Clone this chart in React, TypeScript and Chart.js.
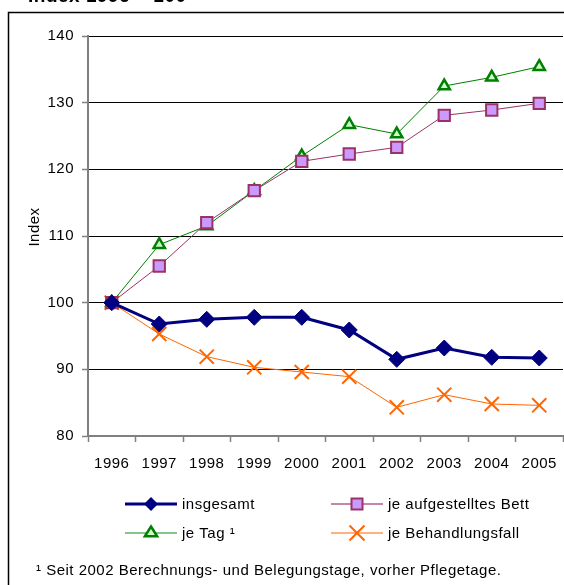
import React, { useEffect, useRef } from "react";
import { Chart, registerables } from "chart.js";

Chart.register(...registerables);

const years = ["1996", "1997", "1998", "1999", "2000", "2001", "2002", "2003", "2004", "2005"];
const insgesamt = [100, 96.8, 97.5, 97.8, 97.8, 95.9, 91.5, 93.2, 91.8, 91.7];
const jeBett = [100, 105.5, 112.0, 116.8, 121.2, 122.3, 123.3, 128.1, 128.9, 129.9];
const jeTag = [100, 108.7, 111.5, 116.8, 122.0, 126.7, 125.3, 132.5, 133.8, 135.4];
const jeFall = [100, 95.3, 91.9, 90.3, 89.6, 88.9, 84.3, 86.2, 84.8, 84.6];

const yMin = 80;
const yMax = 140;
const yStep = 10;

const seriesNames = ["insgesamt", "je aufgestelltes Bett", "je Tag \u00b9", "je Behandlungsfall"];
const footnote = "\u00b9 Seit 2002 Berechnungs- und Belegungstage, vorher Pflegetage.";
const topTitle = "Index 1996 = 100";
const yTitle = "Index";

const FONT = "'Liberation Sans', Arial, sans-serif";
const SPACING = "0.5px";

function drawMarker(ctx: CanvasRenderingContext2D, kind: string, x: number, y: number) {
  ctx.save();
  if (kind === "diamond") {
    const r = 7;
    ctx.beginPath();
    ctx.moveTo(x, y - r);
    ctx.lineTo(x + r, y);
    ctx.lineTo(x, y + r);
    ctx.lineTo(x - r, y);
    ctx.closePath();
    ctx.fillStyle = "#000080";
    ctx.fill();
  } else if (kind === "square") {
    const s = 5.5;
    ctx.fillStyle = "#CC99FF";
    ctx.strokeStyle = "#993366";
    ctx.lineWidth = 2;
    ctx.fillRect(x - s, y - s, 2 * s, 2 * s);
    ctx.strokeRect(x - s, y - s, 2 * s, 2 * s);
  } else if (kind === "triangle") {
    const r = 6.5;
    ctx.beginPath();
    ctx.moveTo(x, y - r);
    ctx.lineTo(x + r * 0.866 + 0.5, y + r * 0.5);
    ctx.lineTo(x - r * 0.866 - 0.5, y + r * 0.5);
    ctx.closePath();
    ctx.fillStyle = "#CCFFCC";
    ctx.fill();
    ctx.strokeStyle = "#008000";
    ctx.lineWidth = 2.5;
    ctx.stroke();
  } else if (kind === "cross") {
    const r = 7.5;
    ctx.beginPath();
    ctx.moveTo(x - r, y - r);
    ctx.lineTo(x + r, y + r);
    ctx.moveTo(x + r, y - r);
    ctx.lineTo(x - r, y + r);
    ctx.strokeStyle = "#FF6600";
    ctx.lineWidth = 2;
    ctx.stroke();
  }
  ctx.restore();
}

function setSpacing(chart: any) {
  const ctx = chart.ctx as any;
  if (ctx && "letterSpacing" in ctx) ctx.letterSpacing = SPACING;
}

const overlayPlugin = {
  id: "overlay",
  beforeLayout(chart: any) {
    setSpacing(chart);
  },
  beforeDraw(chart: any) {
    setSpacing(chart);
    const ctx = chart.ctx as CanvasRenderingContext2D;
    ctx.save();
    ctx.fillStyle = "#ffffff";
    ctx.fillRect(0, 0, chart.width, chart.height);
    ctx.strokeStyle = "#000000";
    ctx.lineWidth = 1.5;
    ctx.beginPath();
    ctx.moveTo(8.5, chart.height + 5);
    ctx.lineTo(8.5, 12.5);
    ctx.lineTo(chart.width + 5, 12.5);
    ctx.stroke();
    ctx.fillStyle = "#000000";
    ctx.font = "bold 19px " + FONT;
    ctx.textBaseline = "alphabetic";
    ctx.textAlign = "left";
    ctx.fillText(topTitle, 28, 2);
    ctx.restore();
  },
  afterDraw(chart: any) {
    const ctx = chart.ctx as CanvasRenderingContext2D;
    const items = [
      { kind: "diamond", color: "#000080", width: 3, x: 125, y: 504 },
      { kind: "square", color: "#B0608A", width: 1.5, x: 331, y: 504 },
      { kind: "triangle", color: "#60B060", width: 1.5, x: 125, y: 533 },
      { kind: "cross", color: "#FF9955", width: 1.5, x: 331, y: 533 },
    ];
    ctx.save();
    items.forEach((it, i) => {
      ctx.beginPath();
      ctx.moveTo(it.x, it.y);
      ctx.lineTo(it.x + 52, it.y);
      ctx.strokeStyle = it.color;
      ctx.lineWidth = it.width;
      ctx.stroke();
      drawMarker(ctx, it.kind, it.x + 26, it.y);
      ctx.fillStyle = "#000000";
      ctx.font = "15px " + FONT;
      ctx.textBaseline = "middle";
      ctx.textAlign = "left";
      ctx.fillText(seriesNames[i], it.x + 57, it.y + 1);
    });
    ctx.font = "15px " + FONT;
    ctx.textBaseline = "middle";
    ctx.fillText(footnote, 36, 571);
    // y-axis title
    ctx.translate(35, 227);
    ctx.rotate(-Math.PI / 2);
    ctx.textAlign = "center";
    ctx.textBaseline = "middle";
    ctx.fillText(yTitle, 0, 0);
    ctx.restore();
  },
};

export default function App() {
  const ref = useRef<HTMLCanvasElement | null>(null);
  useEffect(() => {
    if (!ref.current) return;
    const chart = new Chart(ref.current, {
      type: "line",
      data: {
        labels: years,
        datasets: [
          {
            label: seriesNames[0],
            data: insgesamt,
            borderColor: "#000080",
            backgroundColor: "#000080",
            borderWidth: 3,
            pointStyle: "rectRot",
            pointRadius: 8,
            pointBorderWidth: 1,
            pointBorderColor: "#000080",
            pointBackgroundColor: "#000080",
            tension: 0,
          },
          {
            label: seriesNames[1],
            data: jeBett,
            borderColor: "#993366",
            backgroundColor: "#CC99FF",
            borderWidth: 1,
            pointStyle: "rect",
            pointRadius: 8,
            pointBorderWidth: 2,
            pointBorderColor: "#993366",
            pointBackgroundColor: "#CC99FF",
            tension: 0,
          },
          {
            label: seriesNames[2],
            data: jeTag,
            borderColor: "#008000",
            backgroundColor: "#CCFFCC",
            borderWidth: 1,
            pointStyle: "triangle",
            pointRadius: 6.5,
            pointBorderWidth: 2.5,
            pointBorderColor: "#008000",
            pointBackgroundColor: "#CCFFCC",
            tension: 0,
          },
          {
            label: seriesNames[3],
            data: jeFall,
            borderColor: "#FF6600",
            backgroundColor: "#FF6600",
            borderWidth: 1,
            pointStyle: "crossRot",
            pointRadius: 10,
            pointBorderWidth: 2,
            pointBorderColor: "#FF6600",
            tension: 0,
          },
        ],
      },
      options: {
        animation: false,
        responsive: false,
        maintainAspectRatio: false,
        layout: { autoPadding: false, padding: { left: 0, right: 1, top: 36, bottom: 0 } },
        plugins: {
          legend: { display: false },
          title: { display: false },
          tooltip: { enabled: false },
        },
        scales: {
          x: {
            type: "category",
            offset: true,
            grid: {
              offset: true,
              drawOnChartArea: false,
              drawTicks: true,
              tickLength: 6,
              tickColor: "#808080",
              tickWidth: 1.5,
            },
            border: { color: "#808080", width: 2 },
            ticks: {
              color: "#000000",
              font: { family: FONT, size: 15 },
              padding: 13,
              maxRotation: 0,
              autoSkip: false,
            },
            afterFit: (scale: any) => {
              scale.height = 149;
              scale.paddingLeft = 0;
              scale.paddingRight = 0;
            },
          },
          y: {
            min: yMin,
            max: yMax,
            grid: {
              color: "#000000",
              lineWidth: 1,
              drawTicks: true,
              tickLength: 6,
              tickColor: "#808080",
              tickWidth: 1.5,
            },
            border: { color: "#808080", width: 2 },
            ticks: {
              stepSize: yStep,
              color: "#000000",
              font: { family: FONT, size: 15 },
              padding: 8,
            },
            title: { display: false },
            afterFit: (scale: any) => {
              scale.width = 88;
            },
          },
        },
      },
      plugins: [overlayPlugin],
    });
    return () => chart.destroy();
  }, []);
  return (
    <div style={{ position: "absolute", left: 0, top: 0, width: 564, height: 585, background: "#fff" }}>
      <canvas ref={ref} width={564} height={585} style={{ display: "block", width: 564, height: 585 }} />
    </div>
  );
}
